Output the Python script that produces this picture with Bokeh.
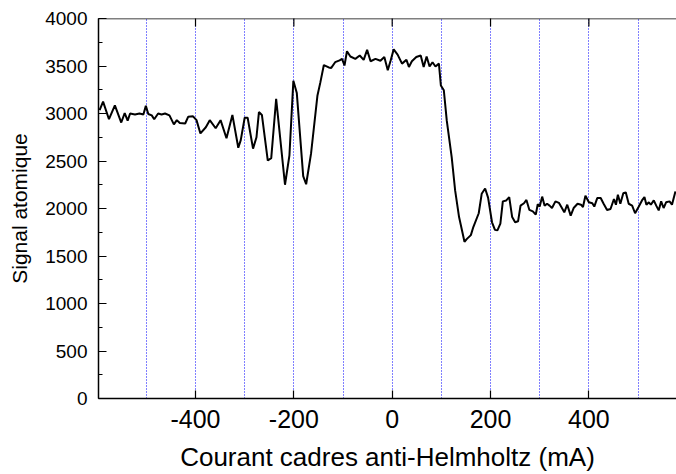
from bokeh.plotting import figure
from bokeh.models import LinearAxis, FixedTicker, SingleIntervalTicker, Range1d, Span
from bokeh.embed import file_html
from bokeh.resources import INLINE

# Courant (mA) and atomic signal
courant = [-595, -588, -576, -564, -551, -544, -538, -533, -523, -514, -506, -501,
           -496, -489, -484, -476, -469, -462, -453, -444, -438, -432, -421, -415,
           -405, -398, -390, -379, -371, -359, -349, -337, -325, -313, -308, -300,
           -294, -283, -276, -271, -265, -253, -246, -236, -218, -209, -201, -194,
           -181, -175, -165, -152, -146, -139, -129, -124, -116, -107, -102, -97,
           -92, -85, -75, -66, -58, -51, -44, -34, -24, -16, -9, -3,
           3, 11, 20, 29, 34, 40, 49, 58, 64, 70, 76, 82,
           88, 95, 99, 105, 111, 121, 128, 136, 147, 152, 160, 165,
           176, 182, 189, 195, 203, 209, 214, 220, 225, 232, 238, 244,
           250, 256, 261, 268, 273, 279, 286, 292, 296, 300, 305, 310,
           315, 320, 325, 332, 339, 344, 350, 356, 363, 369, 377, 384,
           388, 393, 400, 407, 411, 417, 424, 430, 437, 444, 451, 455,
           459, 464, 470, 475, 481, 488, 494, 501, 508, 513, 517, 522,
           526, 532, 537, 542, 547, 552, 557, 564, 569, 576]
signal = [3035, 3125, 2940, 3085, 2905, 3005, 2925, 3000, 2990, 3000, 2990, 3080,
          2995, 2980, 2940, 3000, 2990, 3000, 2980, 2885, 2930, 2900, 2895, 2965,
          2970, 2930, 2790, 2855, 2930, 2845, 2930, 2740, 2985, 2640, 2720, 2955,
          2955, 2630, 2750, 3015, 2985, 2505, 2530, 3155, 2250, 2560, 3345, 3215,
          2340, 2255, 2580, 3190, 3330, 3510, 3485, 3480, 3540, 3560, 3575, 3505,
          3655, 3600, 3575, 3610, 3565, 3670, 3550, 3575, 3555, 3595, 3455, 3560,
          3675, 3620, 3525, 3565, 3490, 3550, 3595, 3610, 3490, 3600, 3495, 3540,
          3495, 3525, 3295, 3245, 2925, 2540, 2190, 1910, 1650, 1680, 1720, 1805,
          1950, 2155, 2210, 2115, 1855, 1775, 1770, 1840, 2075, 2085, 2120, 1910,
          1855, 1865, 2030, 2055, 2090, 1985, 1970, 1935, 2045, 2020, 2125, 2030,
          2050, 2030, 2005, 2075, 2060, 2015, 1960, 2040, 1925, 2005, 2050, 2040,
          2015, 2135, 2065, 2055, 2020, 2110, 2110, 2050, 1985, 1995, 2100, 2040,
          2145, 2050, 2160, 2170, 2050, 2030, 1950, 2015, 2085, 2120, 2040, 2065,
          2040, 2085, 2030, 1980, 2075, 2005, 2065, 2075, 2040, 2180]

x_label_ticks = [-400, -200, 0, 200, 400]
x_grid_ticks = [-500, -400, -300, -200, -100, 0, 100, 200, 300, 400, 500]
y_min, y_max = 0, 4000

FONT = "Liberation Sans"

p = figure(width=676, height=474, output_backend="svg", toolbar_location=None,
           x_range=Range1d(-597.3, 578.2), y_range=Range1d(y_min, y_max),
           x_axis_location=None, y_axis_location=None,
           min_border_left=98, min_border_right=0, min_border_top=18,
           min_border_bottom=76)
p.outline_line_color = None
p.background_fill_color = "white"
p.border_fill_color = "white"

p.xgrid.ticker = FixedTicker(ticks=x_grid_ticks, minor_ticks=[])
p.xgrid.grid_line_color = "#0000ff"
p.xgrid.grid_line_width = 1
p.xgrid.grid_line_dash = "1 2"
p.ygrid.grid_line_color = None

p.line(courant, signal, line_color="black", line_width=2)

# top border with inward ticks
p.add_layout(Span(location=y_max, dimension="width", line_color="black", line_width=1.5))
p.scatter(x_label_ticks, [y_max] * len(x_label_ticks), marker="dash", angle=1.5708,
          size=16, line_color="black", line_width=1.2)

# bottom axis
xb = LinearAxis(ticker=FixedTicker(ticks=x_label_ticks, minor_ticks=[]),
                axis_label="Courant cadres anti-Helmholtz (mA)")
xb.major_label_overrides = {t: str(t) for t in x_label_ticks}
# left axis
yl = LinearAxis(ticker=SingleIntervalTicker(interval=500, num_minor_ticks=2),
                axis_label="Signal atomique")

for ax in (xb, yl):
    ax.axis_line_color = "black"
    ax.axis_line_width = 1.5
    ax.major_tick_line_color = "black"
    ax.major_tick_line_width = 1.2
    ax.major_tick_in = 8
    ax.major_tick_out = 0
    ax.minor_tick_line_color = "black"
    ax.minor_tick_line_width = 1.2
    ax.minor_tick_in = 4
    ax.minor_tick_out = 0
    ax.major_label_text_color = "black"
    ax.major_label_text_font = FONT
    ax.axis_label_text_font = FONT
    ax.axis_label_text_font_style = "normal"
    ax.axis_label_text_color = "black"

xb.major_label_text_font_size = "25px"
xb.major_label_standoff = 11
xb.axis_label_text_font_size = "26px"
xb.axis_label_standoff = 11

yl.major_label_text_font_size = "19px"
yl.major_label_standoff = 11
yl.axis_label_text_font_size = "21px"
yl.axis_label_standoff = 11

p.add_layout(xb, "below")
p.add_layout(yl, "left")

open("out.html", "w").write(file_html(p, INLINE))
